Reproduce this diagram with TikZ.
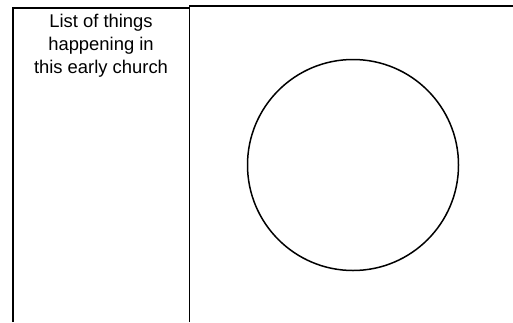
\documentclass[tikz,border=0pt]{standalone}
\usepackage{fontspec}
\setmainfont{Liberation Sans}
\definecolor{ink}{HTML}{000000}
\tikzset{
    panel/.style={
        draw=ink,
        line width=1.6pt
    },
    listlabel/.style={
        font=\fontsize{18.4}{23}\selectfont,
        text=ink,
        align=center,
        inner sep=0pt
    },
    venn/.style={
        circle,
        draw=ink,
        line width=1.5pt,
        minimum size=211pt,
        inner sep=0pt
    }
}
\begin{document}
\begin{tikzpicture}[x=1pt,y=-1pt]
    \useasboundingbox (0,0) rectangle (513,322);

    % Panels, open at the bottom and right
    \draw[panel] (12.8,322) -- (12.8,8) -- (189.5,8);
    \draw[panel] (189.5,322) -- (189.5,5.8) -- (513,5.8);

    % List heading
    \node[listlabel] (heading) at (101,46) {List of things\\happening in\\this early church};

    % Empty circle
    \node[venn] (ring) at (353,165) {};

\end{tikzpicture}
\end{document}
